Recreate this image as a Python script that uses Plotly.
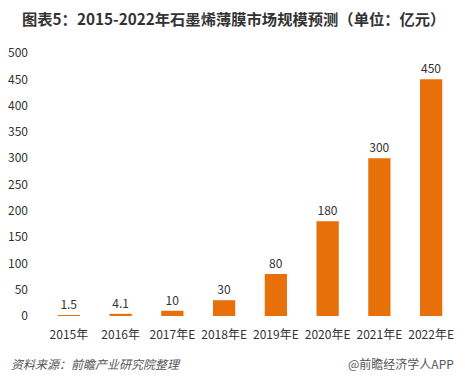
import plotly.graph_objects as go

categories = ["2015年", "2016年", "2017年E", "2018年E", "2019年E", "2020年E", "2021年E", "2022年E"]
values = [1.5, 4.1, 10, 30, 80, 180, 300, 450]
value_labels = ["1.5", "4.1", "10", "30", "80", "180", "300", "450"]
y_ticks = [0, 50, 100, 150, 200, 250, 300, 350, 400, 450, 500]

title_text = "图表5：2015-2022年石墨烯薄膜市场规模预测（单位：亿元）"
source_text = "资料来源：前瞻产业研究院整理"
brand_text = "@前瞻经济学人APP"

font_family = "Microsoft YaHei, Noto Sans CJK SC, sans-serif"

W, H = 465, 383
ML, MR, MT, MB = 41, 8, 53, 67

fig = go.Figure()
fig.add_trace(go.Bar(
    x=categories,
    y=values,
    text=value_labels,
    textposition="outside",
    textfont=dict(size=12, color="#333333", family=font_family),
    marker=dict(color="#E8700A", line=dict(width=0)),
    cliponaxis=False,
))

fig.update_layout(
    width=W,
    height=H,
    margin=dict(l=ML, r=MR, t=MT, b=MB),
    paper_bgcolor="white",
    plot_bgcolor="white",
    bargap=0.57,
    showlegend=False,
    font=dict(family=font_family, color="#333333"),
    xaxis=dict(
        type="category",
        showline=False,
        showgrid=False,
        ticks="",
        tickfont=dict(size=12, color="#333333"),
        ticklabelstandoff=10,
    ),
    yaxis=dict(
        range=[0, 500],
        tickvals=y_ticks,
        showgrid=False,
        zeroline=False,
        showline=False,
        ticks="",
        tickfont=dict(size=12, color="#333333"),
        ticklabelstandoff=14,
    ),
)

plot_w = W - ML - MR
plot_h = H - MT - MB

def px_to_paper_x(px):
    return (px - ML) / plot_w

def px_to_paper_y(py):
    return (H - MB - py) / plot_h

fig.add_annotation(text="<b>" + title_text + "</b>", x=px_to_paper_x(232), y=px_to_paper_y(18),
                   xref="paper", yref="paper", showarrow=False, xanchor="center", yanchor="middle",
                   font=dict(size=15.3, color="#333333"))
fig.add_annotation(text="<i>" + source_text + "</i>", x=px_to_paper_x(7), y=px_to_paper_y(363),
                   xref="paper", yref="paper", showarrow=False, xanchor="left", yanchor="middle",
                   font=dict(size=12, color="#555555"))
fig.add_annotation(text=brand_text, x=px_to_paper_x(456), y=px_to_paper_y(363),
                   xref="paper", yref="paper", showarrow=False, xanchor="right", yanchor="middle",
                   font=dict(size=12, color="#555555"))

fig.write_html("out.html", config={"displayModeBar": False},
               post_script="document.body.style.margin='0';document.body.style.padding='0';")
